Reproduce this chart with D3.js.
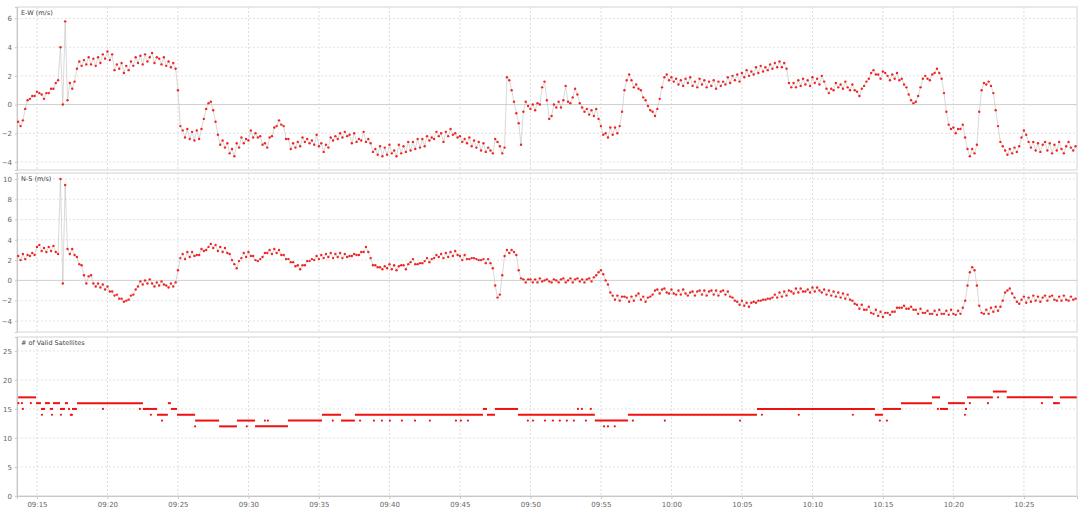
<!DOCTYPE html>
<html><head><meta charset="utf-8">
<script src="https://cdn.jsdelivr.net/npm/d3@7"></script>
<style>body{margin:0;background:#fff}svg{display:block}</style>
</head><body>
<svg id="c" width="1078" height="508"></svg>
<script>
// ---------------- data ----------------
const startTime = "09:13:40";
const stepSeconds = 10;
const ewValues = [
-1.2,-1.5,-1.1,-0.3,0.3,0.4,0.6,0.6,0.9,0.8,0.7,0.4,0.8,0.8,1.1,1.1,1.5,1.7,4.0,0.0,5.8,0.3,1.5,1.1,1.6,2.5,3.0,2.7,3.1,2.8,
3.3,2.8,3.2,2.7,3.3,2.9,3.5,3.2,3.7,3.1,3.5,2.4,2.8,2.5,2.9,2.2,2.7,2.4,3.0,2.7,3.3,2.9,3.4,2.8,3.5,3.0,3.3,3.6,2.9,3.3,
3.2,2.8,3.3,2.7,3.0,2.6,2.9,2.5,1.0,-1.5,-1.8,-2.3,-1.7,-2.4,-1.9,-2.5,-1.8,-2.4,-1.7,-1.0,-0.3,0.1,0.2,-0.4,-1.2,-2.1,-2.8,-2.5,-3.0,-2.7,
-3.4,-3.1,-3.6,-2.7,-3.0,-2.3,-2.7,-2.4,-2.5,-1.8,-2.3,-2.0,-2.3,-2.2,-2.8,-2.7,-3.0,-2.3,-2.2,-1.6,-1.5,-1.1,-1.4,-1.5,-2.4,-2.4,-3.1,-2.7,-3.0,-2.6,
-2.9,-2.3,-2.6,-2.4,-2.7,-2.5,-2.8,-2.1,-2.9,-2.7,-3.3,-2.8,-3.0,-2.3,-2.5,-2.2,-2.4,-2.0,-2.3,-1.9,-2.2,-2.1,-2.7,-2.0,-2.6,-2.4,-2.5,-1.9,-2.6,-2.4,
-2.7,-3.3,-3.1,-3.5,-2.9,-3.6,-3.0,-3.5,-2.8,-3.4,-3.2,-3.6,-2.8,-3.4,-2.9,-3.3,-2.6,-3.2,-2.6,-3.1,-2.4,-3.0,-2.4,-2.9,-2.2,-2.5,-2.3,-2.4,-1.9,-2.2,
-2.0,-2.6,-1.9,-2.2,-1.7,-2.1,-2.0,-2.3,-2.2,-2.6,-2.4,-2.7,-2.3,-2.9,-2.5,-3.0,-2.6,-3.2,-2.7,-3.3,-3.0,-3.2,-3.4,-2.4,-2.6,-2.9,-3.4,-3.0,1.9,1.7,
1.0,0.2,-0.6,-1.3,-2.8,-0.5,0.2,-0.1,-0.3,0.0,-0.4,0.1,0.0,1.2,1.6,0.3,-1.0,-0.8,0.0,-0.2,0.2,-0.2,0.3,1.3,0.2,0.1,0.5,1.1,0.7,0.1,
-0.2,-0.5,-0.3,-0.7,-0.4,-0.8,-0.3,-1.0,-1.5,-2.1,-2.0,-2.3,-1.6,-2.1,-1.6,-2.0,-1.5,-0.5,1.0,1.7,2.1,1.7,1.2,1.4,1.1,1.0,0.5,0.3,-0.1,-0.4,
-0.5,-0.8,-0.3,0.4,1.2,1.9,2.1,1.7,1.9,1.6,1.8,1.4,1.7,1.3,1.8,1.5,1.9,1.3,1.6,1.2,1.8,1.4,1.7,1.2,1.6,1.3,1.7,1.1,1.6,1.3,
1.6,1.4,1.9,1.5,2.0,1.7,2.1,1.6,2.2,1.9,2.4,2.0,2.3,2.1,2.6,2.2,2.7,2.3,2.6,2.4,2.8,2.5,2.9,2.6,3.0,2.6,2.9,2.5,1.5,1.2,
1.5,1.2,1.7,1.3,1.8,1.4,1.7,1.3,1.9,1.5,1.8,1.4,2.0,1.6,1.1,0.8,1.1,1.0,1.5,1.2,1.4,1.1,1.6,1.2,1.0,1.4,1.0,0.9,0.6,1.1,
1.3,1.6,1.8,2.2,2.4,2.1,2.1,1.8,2.3,2.2,2.0,1.7,2.1,1.8,2.2,1.7,1.8,1.4,1.2,0.7,0.3,0.1,0.2,0.6,1.2,1.8,2.0,1.8,1.7,2.1,
2.2,2.5,2.2,1.8,0.8,-0.5,-1.4,-1.7,-1.6,-2.0,-1.7,-1.7,-1.4,-2.3,-3.1,-3.6,-3.1,-3.4,-2.8,-0.5,1.0,1.5,1.4,1.6,1.3,0.8,-0.4,-1.5,-2.6,-2.9,
-3.2,-3.5,-3.1,-3.4,-3.0,-3.3,-2.9,-2.3,-1.8,-2.1,-2.6,-3.0,-2.6,-3.2,-2.7,-3.3,-2.8,-2.6,-3.2,-2.7,-3.4,-2.8,-3.2,-2.6,-3.1,-3.4,-2.9,-2.6,-3.0,-3.2,
-2.9];
const nsValues = [
2.4,2.0,2.6,2.1,2.5,2.4,2.7,2.5,3.3,3.5,2.9,3.2,2.8,3.3,2.9,3.4,2.8,2.6,10.0,-0.3,9.4,3.1,2.6,3.1,2.5,2.3,1.6,1.5,0.5,-0.3,
0.4,0.5,-0.3,-0.6,-0.3,-0.7,-0.4,-0.9,-0.6,-1.1,-1.1,-1.5,-1.4,-1.8,-1.8,-2.1,-2.0,-1.9,-1.5,-1.4,-0.9,-0.6,-0.1,-0.4,0.0,-0.3,0.1,-0.3,-0.6,-0.2,
-0.5,-0.1,-0.4,-0.5,-0.7,-0.3,-0.6,-0.2,1.0,2.2,2.6,2.1,2.8,2.3,2.8,2.4,2.5,2.5,3.1,2.9,3.0,3.3,3.6,3.2,3.5,2.9,3.3,2.8,3.2,2.7,
2.6,2.0,1.6,1.2,1.9,2.2,2.7,2.3,2.8,2.4,2.4,2.0,1.9,2.1,2.3,2.7,2.7,3.0,2.6,3.1,2.7,3.0,2.5,2.5,2.1,2.1,1.8,1.8,1.4,1.5,
1.1,1.5,1.5,1.9,1.9,2.1,2.0,2.4,2.1,2.5,2.2,2.6,2.3,2.7,2.2,2.6,2.3,2.7,2.2,2.6,2.3,2.4,2.4,2.6,2.5,2.5,2.8,2.8,3.3,2.8,
2.2,1.5,1.5,1.3,1.3,1.1,1.4,1.2,1.6,1.1,1.5,1.0,1.4,1.5,1.5,1.1,1.6,1.8,2.1,1.6,1.6,1.7,1.7,1.9,2.2,1.8,2.1,2.2,2.5,2.3,
2.6,2.2,2.7,2.3,2.8,2.4,2.9,2.5,2.4,2.0,2.5,2.1,2.1,2.2,2.2,2.1,2.0,2.0,2.1,1.7,2.1,1.7,1.2,-0.5,-1.7,-1.4,0.5,2.4,3.0,2.7,
3.0,2.8,2.5,1.0,0.2,0.1,-0.2,0.1,0.1,-0.2,0.1,-0.2,0.2,-0.1,0.0,0.1,-0.1,-0.2,0.1,0.0,-0.2,0.1,0.2,-0.2,0.0,0.2,-0.2,0.1,0.2,-0.1,
0.1,-0.2,0.1,0.2,-0.1,0.3,0.5,0.8,1.0,0.6,0.0,-0.4,-1.2,-1.5,-1.9,-1.5,-2.0,-1.6,-1.6,-1.7,-2.1,-1.6,-2.0,-1.5,-1.3,-1.9,-1.6,-2.1,-1.7,-1.6,
-1.4,-1.0,-0.9,-1.3,-0.9,-0.8,-1.2,-1.3,-0.9,-1.3,-1.4,-1.0,-1.4,-0.9,-1.3,-1.5,-1.2,-1.1,-1.5,-1.1,-1.0,-1.4,-1.0,-1.5,-1.1,-1.0,-1.4,-1.0,-1.5,-1.1,
-1.0,-1.4,-1.1,-1.6,-1.7,-2.0,-2.1,-2.4,-2.0,-2.5,-2.2,-2.6,-2.2,-2.1,-2.2,-2.0,-2.0,-1.9,-1.9,-1.8,-1.8,-1.7,-1.4,-1.7,-1.2,-1.6,-1.1,-1.5,-1.0,-1.1,
-1.3,-0.8,-1.2,-0.8,-1.1,-1.1,-0.9,-1.2,-0.7,-1.1,-0.7,-1.0,-1.2,-0.9,-1.4,-1.0,-1.5,-1.1,-1.6,-1.2,-1.7,-1.3,-1.8,-1.4,-1.9,-2.0,-2.3,-2.4,-2.8,-2.4,
-2.9,-2.9,-2.6,-3.2,-3.3,-2.9,-3.5,-3.1,-3.6,-3.2,-3.2,-3.4,-3.1,-3.1,-2.7,-2.7,-2.7,-2.5,-2.8,-2.8,-2.6,-2.9,-2.9,-3.3,-2.8,-3.2,-3.2,-3.0,-3.3,-3.3,
-3.0,-3.4,-2.9,-3.3,-3.3,-3.0,-3.4,-2.9,-3.3,-3.4,-3.0,-3.3,-2.7,-2.0,-0.5,0.8,1.3,1.0,-0.5,-2.5,-3.2,-3.3,-2.9,-3.3,-2.7,-3.1,-2.6,-3.0,-2.6,-2.0,
-1.2,-1.0,-0.8,-1.3,-1.7,-2.1,-2.3,-1.9,-1.6,-2.2,-1.7,-2.1,-1.5,-2.0,-1.6,-2.1,-1.7,-1.5,-2.0,-1.6,-1.5,-1.9,-2.0,-1.6,-2.0,-1.5,-1.9,-2.0,-1.6,-1.9,
-1.8];
const satChangeTimes = ["09:13:40","09:14:56","09:15:17","09:15:34","09:15:55","09:16:08","09:16:38","09:16:59","09:17:12","09:17:20",
"09:17:29","09:17:50","09:22:31","09:23:31","09:24:17","09:24:30","09:24:56","09:26:13","09:27:55","09:29:11",
"09:30:28","09:32:48","09:35:13","09:36:34","09:37:33","09:46:38","09:46:55","09:47:29","09:49:07","09:54:34",
"09:56:55","10:06:04","10:14:26","10:15:00","10:16:17","10:18:29","10:19:03","10:19:37","10:20:49","10:20:58",
"10:22:48","10:23:47","10:27:04","10:27:33"];
const satLevels = [17,16,15,16,15,16,15,16,15,14, 15,16,15,14,16,15,14,13,12,13, 12,13,14,13,14,15,14,15,14,13, 14,15,14,15,16,17,15,16,15,17, 18,17,16,17];
const satEndTime = "10:28:45";
const satOutlierTimes = ["09:13:41","09:13:56","09:14:00","09:14:34","09:15:21","09:16:04","09:16:42","09:17:29","09:19:41","09:22:18",
"09:23:05","09:23:52","09:26:13","09:29:53","09:31:10","09:31:23","09:35:59","09:37:55","09:38:54","09:39:28",
"09:40:02","09:40:53","09:41:49","09:42:52","09:44:43","09:45:04","09:45:34","09:49:49","09:50:11","09:51:02",
"09:51:36","09:52:05","09:52:35","09:53:05","09:53:22","09:53:39","09:53:56","09:54:17","09:55:13","09:55:30",
"09:55:59","09:57:16","09:59:32","10:04:52","10:06:25","10:09:02","10:12:52","10:14:47","10:15:17","10:18:54",
"10:20:49","10:21:10","10:22:27","10:23:10","10:26:17","10:27:12"];
const satOutlierValues = [16,16,15,16,14,14,14,14,15,15, 14,13,12,12,13,13,13,13,13,13, 13,13,13,13,13,13,13,13,13,13, 13,13,13,13,15,15,13,15,12,12, 12,13,13,13,14,14,14,13,13,15, 14,16,16,17,16,16];
const xTickLabels = ["09:15","09:20","09:25","09:30","09:35","09:40","09:45","09:50","09:55","10:00","10:05","10:10","10:15","10:20","10:25"];
const ewTicks = [-4,-2,0,2,4,6];
const nsTicks = [-4,-2,0,2,4,6,8,10];
const satTicks = [0,5,10,15,20,25];

// ---------------- drawing ----------------
const parse = s => { const p = s.split(":").map(Number); return new Date(2020,0,1,p[0],p[1],p[2]||0); };
const t0 = parse(startTime);
const timeAt = i => new Date(t0.getTime() + i*stepSeconds*1000);

const svg = d3.select("#c");
const L = 17, R = 1077;
const x = d3.scaleTime().domain([parse("09:13:35"), parse("10:28:46")]).range([L, R]);
const xTicks = xTickLabels.map(s => parse(s + ":00"));

const panels = [
  {top:7, bottom:170, domain:[-4.56, 6.8], ticks:ewTicks, label:"E-W (m/s)", values:ewValues},
  {top:173, bottom:332, domain:[-5.09, 10.59], ticks:nsTicks, label:"N-S (m/s)", values:nsValues},
  {top:337, bottom:496, domain:[0, 27.4], ticks:satTicks, label:"# of Valid Satellites"}
];
const font = "Verdana, 'DejaVu Sans', sans-serif";

panels.forEach((p, k) => {
  const y = d3.scaleLinear().domain(p.domain).range([p.bottom, p.top]);
  p.y = y;
  const g = svg.append("g");
  g.append("rect").attr("x", L).attr("y", p.top).attr("width", R - L).attr("height", p.bottom - p.top)
    .attr("fill", "#fff").attr("stroke", "#d4d4d4").attr("stroke-width", 1);
  g.selectAll(".vg").data(xTicks).join("line")
    .attr("x1", d => x(d)).attr("x2", d => x(d)).attr("y1", p.top).attr("y2", p.bottom)
    .attr("stroke", "#dcdcdc").attr("stroke-width", 1).attr("stroke-dasharray", "2,2");
  g.selectAll(".hg").data(p.ticks).join("line")
    .attr("x1", L).attr("x2", R).attr("y1", d => y(d)).attr("y2", d => y(d))
    .attr("stroke", d => (d === 0 && k < 2) ? "#cfcfcf" : "#e2e2e2")
    .attr("stroke-width", 1)
    .attr("stroke-dasharray", d => (d === 0 && k < 2) ? null : "2,2");
  const ax = g.append("g").attr("transform", `translate(${L},0)`)
    .call(d3.axisLeft(y).tickValues(p.ticks).tickSize(2).tickPadding(3).tickFormat(d3.format("d")));
  ax.select(".domain").attr("stroke", "#c8c8c8");
  ax.selectAll(".tick line").attr("stroke", "#c8c8c8");
  ax.selectAll("text").attr("fill", "#666").style("font-size", "7px").style("font-family", font);
  g.append("text").attr("x", L + 4).attr("y", p.top + 8).text(p.label)
    .attr("fill", "#444").style("font-size", "6.5px").style("font-family", font);

  if (p.values) {
    const pts = p.values.map((v, i) => [x(timeAt(i)), y(v)]);
    g.append("path").attr("d", d3.line()(pts)).attr("fill", "none")
      .attr("stroke", "#c0c0c0").attr("stroke-width", 0.6);
    g.selectAll(".dot").data(p.values).join("circle")
      .attr("cx", (v, i) => x(timeAt(i))).attr("cy", v => y(v)).attr("r", 1.2)
      .attr("fill", "#f01010").attr("fill-opacity", 0.9);
  }
});

const ys = panels[2].y;
const gs = svg.append("g");
const segEnds = satChangeTimes.slice(1).concat([satEndTime]);
gs.selectAll(".seg").data(satLevels).join("line")
  .attr("x1", (v, i) => x(parse(satChangeTimes[i])))
  .attr("x2", (v, i) => x(parse(segEnds[i])))
  .attr("y1", v => ys(v)).attr("y2", v => ys(v))
  .attr("stroke", "#f01010").attr("stroke-width", 2);
gs.selectAll(".out").data(satOutlierValues).join("circle")
  .attr("cx", (v, i) => x(parse(satOutlierTimes[i]))).attr("cy", v => ys(v)).attr("r", 1.1)
  .attr("fill", "#f01010");

const xa = svg.append("g").attr("transform", `translate(0,496)`)
  .call(d3.axisBottom(x).tickValues(xTicks).tickSize(3).tickPadding(3).tickFormat(d3.timeFormat("%H:%M")));
xa.select(".domain").attr("stroke", "#c8c8c8");
xa.selectAll(".tick line").attr("stroke", "#c8c8c8");
xa.selectAll("text").attr("fill", "#666").style("font-size", "7px").style("font-family", font);
</script>
</body></html>
